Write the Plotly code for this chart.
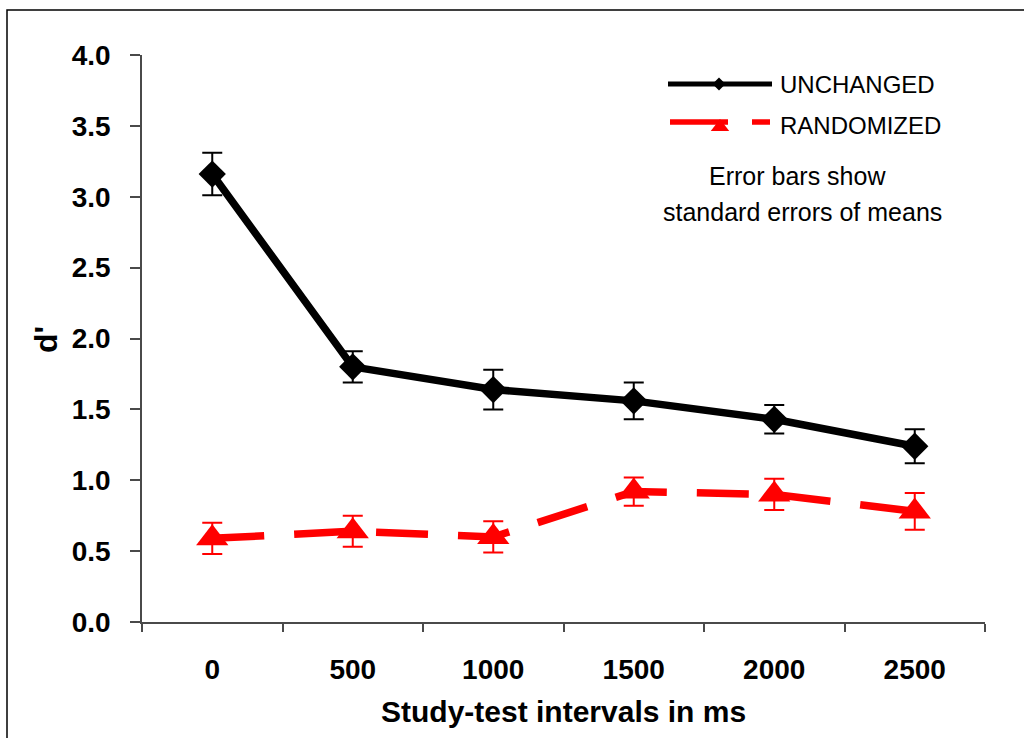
import plotly.graph_objects as go

# Study-test interval (ms) categories and mean d' per condition
intervals = ["0", "500", "1000", "1500", "2000", "2500"]
unchanged = [3.16, 1.80, 1.64, 1.56, 1.43, 1.24]
unchanged_se = [0.15, 0.11, 0.14, 0.13, 0.10, 0.12]
randomized = [0.59, 0.64, 0.60, 0.92, 0.90, 0.78]
randomized_se = [0.11, 0.11, 0.11, 0.10, 0.11, 0.13]
y_ticks = [0.0, 0.5, 1.0, 1.5, 2.0, 2.5, 3.0, 3.5, 4.0]

W, H = 1024, 738
ML, MR, MT, MB = 142, 39, 55, 116
PW, PH = W - ML - MR, H - MT - MB

FONT = "Liberation Sans, Arial, sans-serif"
AXIS_COLOR = "#4a4a4a"


def px_x(px):
    return (px - ML) / PW


def px_y(py):
    return (H - MB - py) / PH


fig = go.Figure()

fig.add_trace(go.Scatter(
    x=intervals, y=randomized, mode="lines+markers", name="RANDOMIZED",
    line=dict(color="#ff0000", width=7.5, dash="52px,30px"),
    marker=dict(symbol="triangle-up", size=28, color="#ff0000"),
    error_y=dict(type="data", array=randomized_se, color="#ff0000",
                 thickness=2, width=10),
    showlegend=False,
))

fig.add_trace(go.Scatter(
    x=intervals, y=unchanged, mode="lines+markers", name="UNCHANGED",
    line=dict(color="#000000", width=7.5),
    marker=dict(symbol="diamond", size=21, color="#000000"),
    error_y=dict(type="data", array=unchanged_se, color="#000000",
                 thickness=2, width=10),
    showlegend=False,
))

# Legend keys drawn on a hidden overlay axis measured in pixels
fig.add_trace(go.Scatter(
    x=[668, 772], y=[84, 84], mode="lines", xaxis="x2", yaxis="y2",
    line=dict(color="#000000", width=5), showlegend=False, hoverinfo="skip",
))
fig.add_trace(go.Scatter(
    x=[719], y=[84], mode="markers", xaxis="x2", yaxis="y2",
    marker=dict(symbol="diamond", size=10, color="#000000"),
    showlegend=False, hoverinfo="skip",
))
fig.add_trace(go.Scatter(
    x=[670, 770], y=[122, 122], mode="lines", xaxis="x2", yaxis="y2",
    line=dict(color="#ff0000", width=5.5, dash="58px,24px"),
    showlegend=False, hoverinfo="skip",
))
fig.add_trace(go.Scatter(
    x=[720], y=[127], mode="markers", xaxis="x2", yaxis="y2",
    marker=dict(symbol="triangle-up", size=16, color="#ff0000"),
    showlegend=False, hoverinfo="skip",
))

annotations = [
    dict(text="UNCHANGED", x=px_x(778), y=px_y(84), xanchor="left", yanchor="middle",
         font=dict(size=24, color="#000")),
    dict(text="RANDOMIZED", x=px_x(778), y=px_y(125), xanchor="left", yanchor="middle",
         font=dict(size=24, color="#000")),
    dict(text="Error bars show", x=px_x(797), y=px_y(176), xanchor="center", yanchor="middle",
         font=dict(size=25, color="#000")),
    dict(text="standard errors of means", x=px_x(802), y=px_y(212), xanchor="center",
         yanchor="middle", font=dict(size=25, color="#000")),
    dict(text="<b>Study-test intervals in ms</b>", x=px_x(563), y=px_y(712),
         xanchor="center", yanchor="middle", font=dict(size=30, color="#000")),
    dict(text="<b>d'</b>", x=px_x(46), y=px_y(340), xanchor="center", yanchor="middle",
         textangle=-90, font=dict(size=32, color="#000")),
]
for a in annotations:
    a.update(xref="paper", yref="paper", showarrow=False)
    a["font"]["family"] = FONT

fig.update_layout(
    width=W, height=H,
    margin=dict(l=ML, r=MR, t=MT, b=MB),
    paper_bgcolor="#ffffff", plot_bgcolor="#ffffff",
    font=dict(family=FONT, color="#000"),
    xaxis=dict(
        type="category", range=[-0.5, 5.5], tickson="boundaries",
        showline=True, linecolor=AXIS_COLOR, linewidth=1.5,
        ticks="outside", ticklen=8, tickcolor=AXIS_COLOR, tickwidth=1.5,
        showgrid=False, zeroline=False, ticklabelstandoff=22,
        tickfont=dict(size=28, family=FONT, weight="bold", color="#000"),
    ),
    yaxis=dict(
        range=[0, 4], tickvals=y_ticks, tickformat=".1f",
        showline=True, linecolor=AXIS_COLOR, linewidth=1.5,
        ticks="outside", ticklen=10, tickcolor=AXIS_COLOR, tickwidth=1.5,
        showgrid=False, zeroline=False, ticklabelstandoff=14,
        tickfont=dict(size=28, family=FONT, weight="bold", color="#000"),
    ),
    xaxis2=dict(range=[ML, W - MR], overlaying="x", visible=False, fixedrange=True),
    yaxis2=dict(range=[H - MB, MT], overlaying="y", visible=False, fixedrange=True),
    annotations=annotations,
    shapes=[dict(
        type="rect", xref="paper", yref="paper",
        x0=px_x(7), x1=px_x(W + 10), y0=px_y(H + 10), y1=px_y(10),
        line=dict(color="#000", width=1.5), fillcolor="rgba(0,0,0,0)", layer="below",
    )],
)

fig.write_html("out.html")
